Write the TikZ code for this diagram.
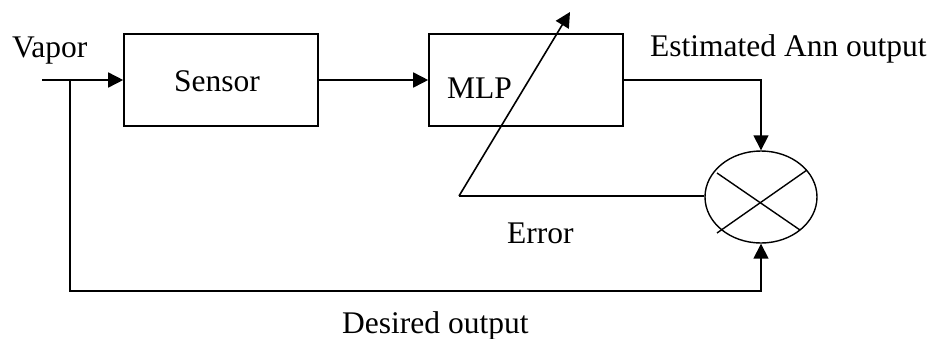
\documentclass[tikz,border=0pt]{standalone}
\usepackage{fontspec}
\setmainfont{Liberation Serif}
\usetikzlibrary{arrows.meta,shapes.geometric}

\tikzset{
  wire/.style={line width=1.6pt, draw=black},
  arr/.style={wire, -{Triangle[length=15pt,width=15pt]}},
  blockbox/.style={draw=black, line width=1.6pt, rectangle,
    minimum width=194pt, minimum height=92pt, inner sep=0pt},
  mixer/.style={draw=black, line width=1.4pt, ellipse,
    minimum width=112pt, minimum height=92pt, inner sep=0pt},
  lbl/.style={inner sep=0pt, anchor=base west,
    font=\fontsize{31.5}{37}\selectfont}
}

\begin{document}
\begin{tikzpicture}[x=1pt, y=-1pt]
  \useasboundingbox (0,0) rectangle (931,338);

  % blocks
  \node[blockbox] (sensor) at (221,80) {};
  \node[blockbox] (mlp) at (526,80) {};
  \node[mixer] (mix) at (761,197) {};

  % cross inside the comparator
  \draw[line width=1.4pt] (717,173) -- (800,230);
  \draw[line width=1.4pt] (807,170) -- (717,233);

  % auxiliary points
  \coordinate (vin) at (42,80);
  \coordinate (split) at (70,80);
  \coordinate (fbk) at (70,291);
  \coordinate (errc) at (459,196);
  \coordinate (tip) at (570,12);

  % signal flow
  \draw[arr] (vin) -- (sensor.west);
  \draw[arr] (sensor.east) -- (mlp.west);
  \draw[arr] (mlp.east) -| (mix.north);
  \draw[arr] (split) -- (fbk) -| (mix.south);
  \draw[wire] (mix.west |- errc) -- (errc);
  \draw[arr] (errc) -- (tip);

  % labels
  \node[lbl] (tvapor) at (12,57) {Vapor};
  \node[lbl] (tsensor) at (174,91) {Sensor};
  \node[lbl] (tmlp) at (447,98) {MLP};
  \node[lbl] (test) at (650,56) {Estimated Ann output};
  \node[lbl] (terr) at (507,243) {Error};
  \node[lbl] (tdes) at (342,333) {Desired output};
\end{tikzpicture}
\end{document}
